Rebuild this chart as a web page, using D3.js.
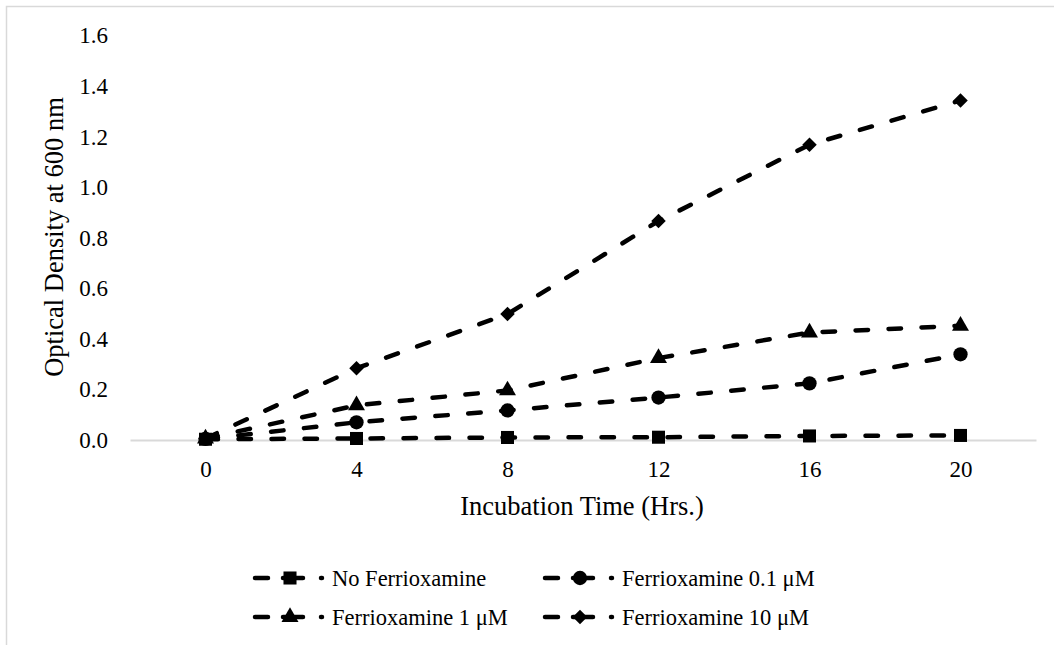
<!DOCTYPE html>
<html>
<head>
<meta charset="utf-8">
<script src="https://cdn.jsdelivr.net/npm/d3@7"></script>
<style>
  body { margin: 0; background: #fff; }
  text { font-family: "Liberation Serif", "Times New Roman", serif; fill: #000; }
</style>
</head>
<body>
<div id="chart"></div>
<script>
var times = [0, 4, 8, 12, 16, 20]
var noFerri = [0.003, 0.006, 0.010, 0.011, 0.016, 0.018]
var ferri01 = [0.004, 0.070, 0.117, 0.168, 0.224, 0.339]
var ferri1 = [0.006, 0.137, 0.196, 0.324, 0.425, 0.452]
var ferri10 = [0.006, 0.284, 0.498, 0.866, 1.168, 1.343]
var seriesNames = ["No Ferrioxamine", "Ferrioxamine 0.1 \u03bcM", "Ferrioxamine 1 \u03bcM", "Ferrioxamine 10 \u03bcM"]
var yTicks = [0, 0.2, 0.4, 0.6, 0.8, 1.0, 1.2, 1.4, 1.6]

var W = 1054, H = 645
var plotLeft = 130, plotRight = 1036, plotTop = 35.5, plotBottom = 440

var series = [
  {name: seriesNames[0], values: noFerri, shape: "square"},
  {name: seriesNames[1], values: ferri01, shape: "circle"},
  {name: seriesNames[2], values: ferri1, shape: "triangle"},
  {name: seriesNames[3], values: ferri10, shape: "diamond"}
]

var svg = d3.select("#chart").append("svg")
    .attr("width", W)
    .attr("height", H)

// outer chart border
svg.append("rect")
    .attr("x", 6.5).attr("y", 6.5)
    .attr("width", 1100).attr("height", 700)
    .attr("fill", "none")
    .attr("stroke", "#d9d9d9")
    .attr("stroke-width", 1.5)

var x = d3.scalePoint()
    .domain(times)
    .range([plotLeft, plotRight])
    .padding(0.5)

var y = d3.scaleLinear()
    .domain([0, 1.6])
    .range([plotBottom, plotTop])

// x axis
var xAxis = svg.append("g")
    .attr("transform", "translate(0," + plotBottom + ")")
    .call(d3.axisBottom(x).tickSize(0).tickPadding(21))
xAxis.select(".domain").attr("stroke", "#d9d9d9").attr("stroke-width", 2)
xAxis.selectAll("text").style("font-size", "23px").attr("fill", "#000")

// y axis
var yAxis = svg.append("g")
    .attr("transform", "translate(" + plotLeft + ",0)")
    .call(d3.axisLeft(y).tickValues(yTicks).tickSize(0).tickPadding(22).tickFormat(d3.format(".1f")))
yAxis.select(".domain").remove()
yAxis.selectAll("text").style("font-size", "23px").attr("fill", "#000")

// axis titles
svg.append("text")
    .attr("x", 582)
    .attr("y", 515)
    .attr("text-anchor", "middle")
    .style("font-size", "26.5px")
    .text("Incubation Time (Hrs.)")

svg.append("text")
    .attr("transform", "translate(63," + 237 + ")rotate(-90)")
    .attr("text-anchor", "middle")
    .style("font-size", "26.5px")
    .text("Optical Density at 600 nm")

var symbolFor = {
  square: d3.symbol().type(d3.symbolSquare).size(170),
  circle: d3.symbol().type(d3.symbolCircle).size(160),
  triangle: d3.symbol().type(d3.symbolTriangle).size(125),
  diamond: d3.symbol().type(d3.symbolSquare).size(105)
}
function rot(shape) { return shape == "diamond" ? "rotate(45)" : "" }

var line = d3.line()
    .x(function(d, i) { return x(times[i]) })
    .y(function(d) { return y(d) })

var plot = svg.append("g")

series.forEach(function(s) {
  plot.append("path")
      .datum(s.values)
      .attr("d", line)
      .attr("fill", "none")
      .attr("stroke", "#000")
      .attr("stroke-width", 4.5)
      .attr("stroke-linecap", "round")
      .attr("stroke-dasharray", "12.5,20.5")

  plot.selectAll(null)
      .data(s.values)
      .enter()
      .append("path")
      .attr("d", symbolFor[s.shape])
      .attr("transform", function(d, i) { return "translate(" + x(times[i]) + "," + y(d) + ")" + rot(s.shape) })
      .attr("fill", "#000")
})

// legend
var legX = [255, 545], legY = [578, 617]
series.forEach(function(s, i) {
  var g = svg.append("g")
      .attr("transform", "translate(" + legX[i % 2] + "," + legY[Math.floor(i / 2)] + ")")
  g.append("line")
      .attr("x1", 0).attr("x2", 67)
      .attr("stroke", "#000")
      .attr("stroke-width", 4.5)
      .attr("stroke-linecap", "round")
      .attr("stroke-dasharray", "13,15,20,18,1")
  g.append("path")
      .attr("d", symbolFor[s.shape])
      .attr("transform", "translate(35,0)" + rot(s.shape))
      .attr("fill", "#000")
  g.append("text")
      .attr("x", 77)
      .attr("dy", "0.35em")
      .style("font-size", "22.5px")
      .text(s.name)
})
</script>
</body>
</html>
